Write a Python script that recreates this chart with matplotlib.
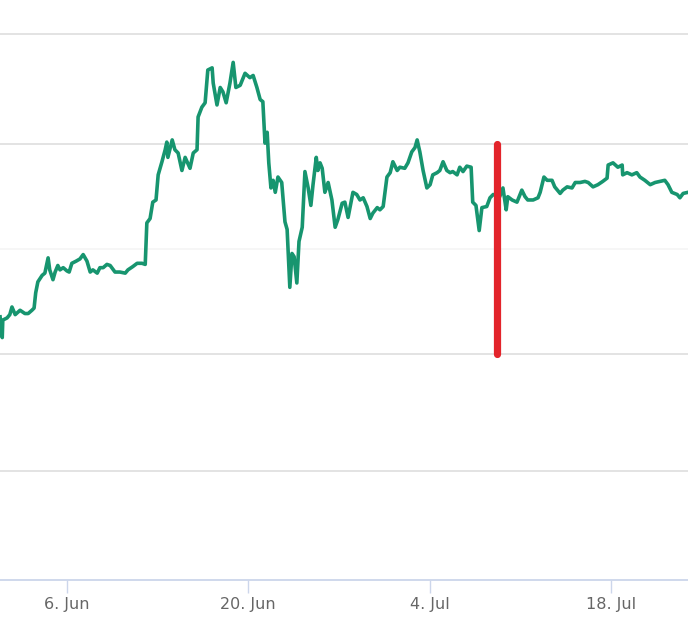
import pandas as pd
import matplotlib
matplotlib.use("Agg")
import matplotlib.pyplot as plt

# Series: hours after 1 Jun 00:00, and level
hours = [-4, 0, 1, 9, 14, 18, 24, 33, 42, 48, 55, 59, 62, 66, 74, 79, 85, 88, 94, 98,
         103, 107, 113, 120, 124, 129, 137, 144, 150, 157, 163, 168, 176, 181, 187, 194, 200, 209, 218, 228,
         233, 242, 250, 259, 265, 268, 274, 279, 285, 289, 296, 302, 305, 307, 315, 320, 326, 333, 339, 348,
         354, 361, 363, 370, 376, 381, 389, 391, 398, 404, 409, 415, 422, 428, 433, 441, 450, 459, 465, 472,
         478, 483, 487, 491, 494, 498, 502, 506, 511, 518, 524, 528, 533, 537, 541, 546, 550, 556, 561, 567,
         572, 576, 582, 585, 589, 593, 598, 604, 611, 617, 622, 630, 635, 641, 650, 657, 663, 669, 676, 682,
         687, 695, 700, 706, 713, 719, 724, 732, 737, 746, 752, 759, 765, 769, 774, 780, 787, 793, 798, 806,
         811, 817, 824, 830, 835, 843, 848, 854, 861, 869, 872, 878, 884, 889, 898, 904, 910, 917, 922, 928,
         934, 937, 945, 954, 963, 969, 974, 984, 993, 997, 1004, 1010, 1019, 1024, 1034, 1039, 1047, 1056, 1062, 1071,
         1080, 1086, 1095, 1104, 1113, 1121, 1123, 1132, 1141, 1149, 1150, 1158, 1167, 1176, 1182, 1191, 1201, 1210, 1219, 1228,
         1234, 1241, 1251, 1256, 1262, 1271]
level = [24.1, 22.2, 23.8, 24.0, 24.3, 25.0, 24.3, 24.7, 24.4, 24.4, 24.7, 24.9, 26.3, 27.3, 27.9, 28.1, 29.5, 28.4, 27.5, 28.2,
         28.8, 28.4, 28.6, 28.3, 28.2, 29.0, 29.2, 29.4, 29.8, 29.2, 28.2, 28.4, 28.1, 28.6, 28.6, 28.9, 28.8, 28.2, 28.2, 28.1,
         28.4, 28.7, 29.0, 29.0, 28.9, 32.7, 33.1, 34.6, 34.8, 37.1, 38.3, 39.4, 40.1, 38.7, 40.3, 39.4, 39.1, 37.5, 38.7, 37.7,
         39.1, 39.4, 42.4, 43.3, 43.7, 46.7, 46.9, 45.5, 43.5, 45.1, 44.7, 43.7, 45.5, 47.4, 45.1, 45.3, 46.4, 46.0, 46.2, 45.1,
         44.0, 43.8, 40.0, 41.0, 38.2, 35.9, 36.6, 35.5, 36.9, 36.4, 32.8, 32.1, 26.8, 29.9, 29.6, 27.2, 31.0, 32.3, 37.4, 35.9,
         34.3, 36.2, 38.7, 37.5, 38.2, 37.7, 35.5, 36.4, 34.8, 32.3, 33.0, 34.5, 34.6, 33.2, 35.5, 35.3, 34.8, 35.0, 34.2, 33.1,
         33.6, 34.1, 33.9, 34.2, 36.9, 37.3, 38.3, 37.5, 37.8, 37.7, 38.2, 39.2, 39.6, 40.3, 39.2, 37.5, 35.9, 36.2, 37.1, 37.3,
         37.5, 38.3, 37.5, 37.3, 37.4, 37.1, 37.8, 37.4, 37.9, 37.8, 34.6, 34.3, 32.0, 34.1, 34.2, 35.0, 35.3, 35.2, 35.1, 35.9,
         33.9, 35.1, 34.8, 34.6, 35.7, 35.1, 34.8, 34.8, 35.0, 35.5, 36.9, 36.6, 36.6, 36.0, 35.4, 35.7, 36.0, 35.9, 36.4, 36.4,
         36.5, 36.4, 36.0, 36.2, 36.5, 36.8, 38.0, 38.2, 37.8, 38.0, 37.1, 37.3, 37.1, 37.3, 36.9, 36.6, 36.2, 36.4, 36.5, 36.6,
         36.2, 35.5, 35.3, 35.0, 35.4, 35.5]

tick_dates = ["2021-06-06", "2021-06-20", "2021-07-04", "2021-07-18"]
tick_labels = ["6. Jun", "20. Jun", "4. Jul", "18. Jul"]
grid_levels = [10.0, 20.7, 30.3, 39.9, 50.0]

# red vertical marker
marker_hour = 917
marker_low, marker_high = 20.7, 39.9

start = pd.Timestamp("2021-06-01")
dates = start + pd.to_timedelta(hours, unit="h")
marker_date = start + pd.Timedelta(hours=marker_hour)

fig = plt.figure(figsize=(6.88, 6.34), dpi=100)
ax = fig.add_axes([0, 54 / 634, 1, 560 / 634])

for g in grid_levels:
    col = "#f6f6f6" if g == 30.3 else "#e3e3e3"
    ax.axhline(g, color=col, linewidth=1.4, zorder=1)

ax.plot(dates, level, color="#17956f", linewidth=2.6, solid_joinstyle="round", zorder=3)
ax.plot([marker_date, marker_date], [marker_low, marker_high], color="#e3242b",
        linewidth=5.2, solid_capstyle="round", zorder=4)

ax.set_xlim(start + pd.Timedelta(hours=-4.17), start + pd.Timedelta(hours=1271))
ax.set_ylim(0, 51.28)

for s in ["top", "right", "left"]:
    ax.spines[s].set_visible(False)
ax.spines["bottom"].set_color("#ccd6eb")
ax.spines["bottom"].set_linewidth(1.3)

ax.set_yticks([])
ax.set_xticks(pd.to_datetime(tick_dates))
ax.set_xticklabels(tick_labels, fontsize=11.5, color="#666666",
                   family=["Liberation Sans Narrow", "DejaVu Sans"])
ax.tick_params(axis="x", length=9.5, width=1, color="#ccd6eb", pad=3)

fig.savefig("out.png", dpi=100)
